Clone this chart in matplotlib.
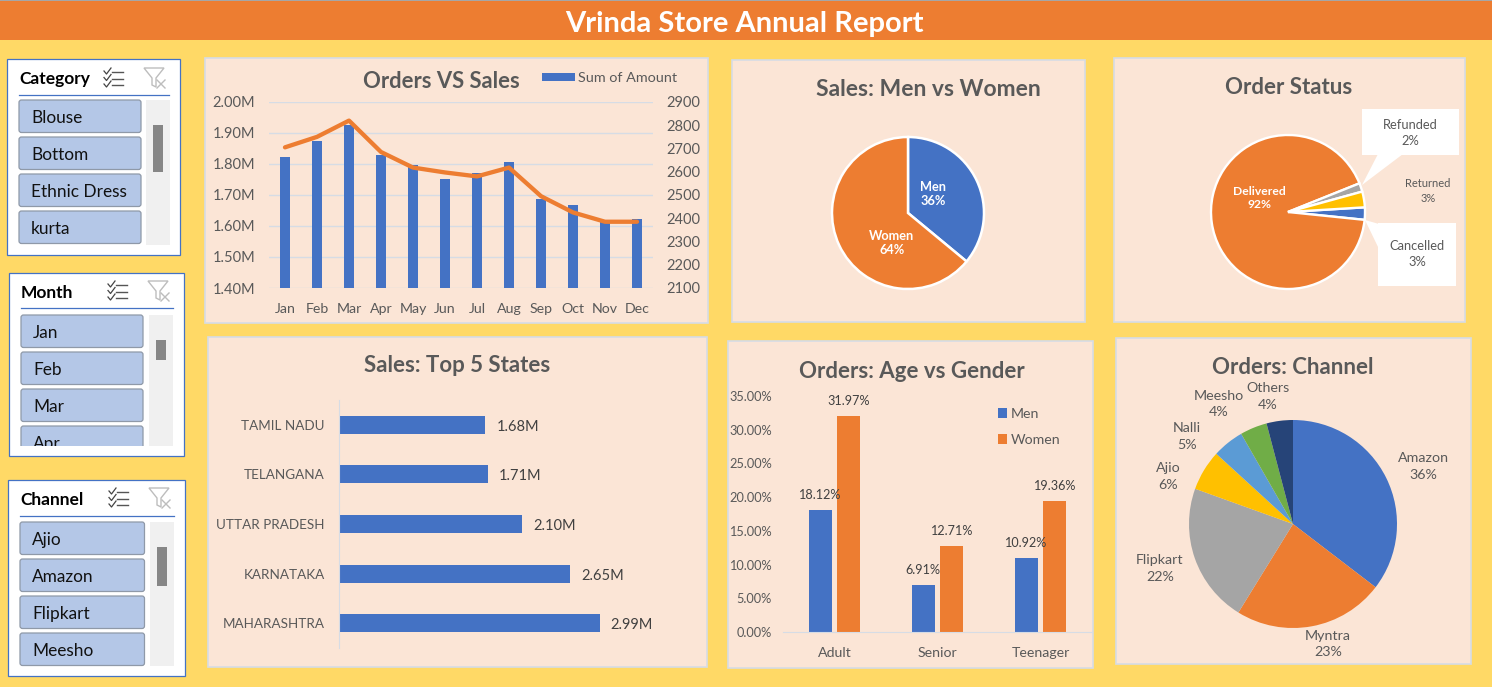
import matplotlib
matplotlib.use("Agg")
import matplotlib.pyplot as plt
from matplotlib.patches import FancyBboxPatch, Rectangle, Polygon

plt.rcParams['font.family'] = ['Lato', 'DejaVu Sans']

# ---------- data ----------
months = ['Jan', 'Feb', 'Mar', 'Apr', 'May', 'Jun', 'Jul', 'Aug', 'Sep', 'Oct', 'Nov', 'Dec']
amount_m = [1.822, 1.875, 1.927, 1.830, 1.797, 1.753, 1.772, 1.807, 1.688, 1.668, 1.612, 1.623]
orders = [2705, 2750, 2820, 2685, 2618, 2597, 2580, 2618, 2495, 2425, 2385, 2385]

gender_labels = ['Men', 'Women']
gender_share = [36, 64]

status_labels = ['Cancelled', 'Delivered', 'Refunded', 'Returned']
status_share = [2.6, 92.3, 1.8, 3.3]

states = ['MAHARASHTRA', 'KARNATAKA', 'UTTAR PRADESH', 'TELANGANA', 'TAMIL NADU']
state_sales = [2.99, 2.65, 2.10, 1.71, 1.68]

age_groups = ['Adult', 'Senior', 'Teenager']
age_men = [18.12, 6.91, 10.92]
age_women = [31.97, 12.71, 19.36]

channels = ['Amazon', 'Myntra', 'Flipkart', 'Ajio', 'Nalli', 'Meesho', 'Others']
channel_share = [35.4, 23.4, 21.7, 6.3, 4.9, 4.2, 4.1]
channel_printed = [36, 23, 22, 6, 5, 4, 4]

slicer_category = ['Blouse', 'Bottom', 'Ethnic Dress', 'kurta']
slicer_month = ['Jan', 'Feb', 'Mar', 'Apr']
slicer_channel = ['Ajio', 'Amazon', 'Flipkart', 'Meesho']

# ---------- style ----------
W, H = 1492, 687
YELLOW = '#FFD966'
PANEL = '#FBE5D6'
ORANGE = '#ED7D31'
BLUE = '#4472C4'
GRAY = '#A5A5A5'
GOLD = '#FFC000'
LBLUE = '#5B9BD5'
GREEN = '#70AD47'
NAVY = '#264478'
TXT = '#595959'
DLBL = '#404040'
GRID = '#D6DCE5'

fig = plt.figure(figsize=(W / 100, H / 100), dpi=100, facecolor=YELLOW)


def px_axes(x0, y0, x1, y1, z=2):
    a = fig.add_axes([x0 / W, 1 - y1 / H, (x1 - x0) / W, (y1 - y0) / H], zorder=z)
    a.patch.set_alpha(0)
    return a


bg = fig.add_axes([0, 0, 1, 1], zorder=0)
bg.set_xlim(0, W)
bg.set_ylim(H, 0)
bg.axis('off')

top = fig.add_axes([0, 0, 1, 1], zorder=5)
top.set_xlim(0, W)
top.set_ylim(H, 0)
top.axis('off')
top.patch.set_alpha(0)


def rect(a, x0, y0, x1, y1, fc, ec='none', lw=0, z=1):
    a.add_patch(Rectangle((x0, y0), x1 - x0, y1 - y0, facecolor=fc, edgecolor=ec, linewidth=lw, zorder=z))


# header
rect(bg, 0, 0, W, 40, ORANGE)
rect(bg, 0, 0, W, 1, '#A6A6A6', z=2)
bg.text(744, 24, 'Vrinda Store Annual Report', color='white', fontsize=21, fontweight='bold', ha='center', va='center')

# panels
panel_boxes = [(205, 58, 708, 323), (732, 60, 1085, 322), (1114, 58, 1465, 322),
               (208, 337, 707, 667), (728, 341, 1093, 668), (1116, 338, 1471, 664)]
for (a, b, c, d) in panel_boxes:
    rect(bg, a, b, c, d, PANEL, ec=GRID, lw=1.2)


def title(text, x, y, size=16):
    bg.text(x, y, text, color=TXT, fontsize=size, fontweight='bold', ha='center', va='center', zorder=3)


title('Orders VS Sales', 441, 82, 15.8)
title('Sales: Men vs Women', 928, 90, 16.5)
title('Order Status', 1289, 87.5)
title('Sales: Top 5 States', 457, 366)
title('Orders: Age vs Gender', 912, 371)
title('Orders: Channel', 1293, 368)


# slicers
def slicer(name, items, box, line_y, line_x, btn_x, btn_y, track, thumb, icon_y, clip_last=None):
    x0, y0, x1, y1 = box
    rect(bg, x0, y0, x1, y1, 'white', ec=BLUE, lw=0.9)
    bg.text(line_x[0], (y0 + line_y) / 2 + 2, name, color='black', fontsize=12.5, fontweight='bold', va='center', zorder=3)
    bg.plot(line_x, [line_y, line_y], color=BLUE, lw=0.9, zorder=3)
    rect(bg, track[0], track[1], track[2], track[3], '#F0F0F0', z=2)
    rect(bg, thumb[0], thumb[1], thumb[2], thumb[3], '#868686', z=3)
    for i, item in enumerate(items):
        by = btn_y + i * 37
        bh = 32.5
        p = FancyBboxPatch((btn_x[0] + 1, by + 1), btn_x[1] - btn_x[0] - 2, bh - 2,
                           boxstyle='round,pad=1,rounding_size=2.5', facecolor='#B4C7E7',
                           edgecolor='#8F99A8', linewidth=0.9, zorder=3)
        bg.add_patch(p)
        t = bg.text(btn_x[0] + 12, by + bh / 2 + 2, item, color='#111111', fontsize=12.4, va='center', zorder=4)
        if clip_last is not None and i == len(items) - 1:
            cr = Rectangle((btn_x[0] - 3, by - 3), btn_x[1] - btn_x[0] + 6, clip_last - by + 3, transform=bg.transData)
            p.set_clip_path(cr)
            t.set_clip_path(cr)
            t.set_clip_on(True)
    # multi-select icon
    ix = line_x[1] - 65
    for k in range(3):
        yy = icon_y + 4 + k * 6.5
        bg.plot([ix + 8, ix + 19], [yy, yy], color='#555555', lw=1.0, zorder=3)
        bg.plot([ix, ix + 2.5, ix + 7], [yy - 1, yy + 2, yy - 4], color='#444444', lw=0.9, zorder=3)
    # clear-filter icon
    fx = line_x[1] - 25
    bg.add_patch(Polygon([(fx, icon_y), (fx + 20, icon_y), (fx + 12, icon_y + 10), (fx + 12, icon_y + 19),
                          (fx + 8, icon_y + 17), (fx + 8, icon_y + 10)],
                         closed=True, facecolor='none', edgecolor='#BDBDBD', linewidth=1.0, zorder=3))
    bg.plot([fx + 13, fx + 21], [icon_y + 12, icon_y + 20], color='#BDBDBD', lw=1.0, zorder=3)
    bg.plot([fx + 21, fx + 13], [icon_y + 12, icon_y + 20], color='#BDBDBD', lw=1.0, zorder=3)


slicer('Category', slicer_category, (7, 59, 180, 255), 95, (19, 169), (19, 141), 100,
       (146, 100, 170, 245), (153, 125, 163, 172), 68)
slicer('Month', slicer_month, (9, 273, 184, 456), 308, (21, 173), (21, 143), 315,
       (149, 315, 173, 446), (156, 340, 166, 360), 281, clip_last=446)
slicer('Channel', slicer_channel, (8, 480, 185, 676), 516, (20, 174), (20, 144.5), 522,
       (150, 522, 174, 666), (157, 547, 167, 586), 488)

# ---------- Orders vs Sales ----------
ax = px_axes(269, 102, 653, 288)
ax.bar(range(12), amount_m, width=0.31, color=BLUE, label='Sum of Amount', zorder=2)
ax.set_xlim(-0.5, 11.5)
ax.set_ylim(1.40, 2.00)
ax.set_yticks([1.4, 1.5, 1.6, 1.7, 1.8, 1.9, 2.0])
ax.set_yticklabels(['%.2fM' % v for v in [1.4, 1.5, 1.6, 1.7, 1.8, 1.9, 2.0]])
ax.set_xticks(range(12))
ax.set_xticklabels(months)
ax.grid(axis='y', color=GRID, lw=1, zorder=0)
ax.set_axisbelow(True)
for s in ax.spines.values():
    s.set_visible(False)
ax.tick_params(axis='both', length=0, labelcolor=TXT)
ax.tick_params(axis='y', labelsize=10.5, pad=10)
ax.tick_params(axis='x', labelsize=10.2, pad=11)
ax2 = ax.twinx()
ax2.patch.set_alpha(0)
ax2.plot(range(12), orders, color=ORANGE, lw=3.1, solid_capstyle='round')
ax2.set_ylim(2100, 2900)
ax2.set_yticks(range(2100, 3000, 100))
for s in ax2.spines.values():
    s.set_visible(False)
ax2.tick_params(axis='y', length=0, labelcolor=TXT, labelsize=10.5, pad=9.5)
fs = 10.4
ax.legend(loc='center left', bbox_to_anchor=(542 / W, 1 - 78 / H), bbox_transform=fig.transFigure,
          frameon=False, fontsize=fs, borderpad=0, borderaxespad=0, handlelength=33 / (fs * 100 / 72),
          handleheight=8 / (fs * 100 / 72), handletextpad=0.2, labelcolor=TXT)

# ---------- Men vs Women ----------
ax = px_axes(908 - 76, 213 - 76, 908 + 76, 213 + 76)
ax.pie(gender_share, colors=[BLUE, ORANGE], startangle=90, counterclock=False, radius=1,
       wedgeprops=dict(edgecolor='white', linewidth=1.8, clip_on=False))
ax.set_xlim(-1, 1)
ax.set_ylim(-1, 1)
gender_pos = [(933, 194), (892, 243)]
for lab, v, (x, y) in zip(gender_labels, gender_share, gender_pos):
    top.text(x, y, '%s\n%d%%' % (lab, v), color='white', fontsize=9.2, fontweight='bold', ha='center', va='center', linespacing=1.25)

# ---------- Order Status ----------
rect(bg, 1362, 109, 1459, 155, 'white', z=3)
bg.add_patch(Polygon([(1378, 154), (1403, 154), (1362, 185)], closed=True, facecolor='white', edgecolor='none', zorder=3))
rect(bg, 1378, 223, 1456, 286, 'white', z=3)
bg.add_patch(Polygon([(1379, 224), (1379, 249), (1365, 220)], closed=True, facecolor='white', edgecolor='none', zorder=3))
ax = px_axes(1288 - 77, 212 - 77, 1288 + 77, 212 + 77)
ax.pie(status_share, colors=[BLUE, ORANGE, GRAY, GOLD], startangle=3.5, counterclock=False, radius=1,
       wedgeprops=dict(edgecolor='white', linewidth=1.7, clip_on=False))
ax.set_xlim(-1, 1)
ax.set_ylim(-1, 1)
status_pos = {'Cancelled': (1417, 254, 9.3, TXT, 'normal', 1.45), 'Delivered': (1259, 198, 8.7, 'white', 'bold', 1.2),
              'Refunded': (1410, 133, 9.3, TXT, 'normal', 1.45), 'Returned': (1428, 191, 8, TXT, 'normal', 1.35)}
for lab, v in zip(status_labels, status_share):
    x, y, s, c, w, ls = status_pos[lab]
    top.text(x, y, '%s\n%.0f%%' % (lab, v), color=c, fontsize=s, fontweight=w, ha='center', va='center', linespacing=ls)

# ---------- Top 5 states ----------
ax = px_axes(338.6, 400, 687, 648)
ax.barh(range(5), state_sales, height=0.36, color=BLUE, zorder=2)
ax.set_ylim(-0.5, 4.5)
ax.set_xlim(0, 348.4 / 87.3)
ax.set_yticks(range(5))
ax.set_yticklabels(states)
ax.set_xticks([])
for name, s in ax.spines.items():
    s.set_visible(name == 'left')
ax.spines['left'].set_color(GRID)
ax.tick_params(axis='y', length=0, labelcolor=TXT, labelsize=9.7, pad=10)
for i, v in enumerate(state_sales):
    ax.annotate('%.2fM' % v, (v, i), xytext=(11, -2), textcoords='offset pixels', color=DLBL, fontsize=10.5, va='center')

# ---------- Age vs Gender ----------
ax = px_axes(783, 396, 1092, 632)
off = 0.14
ax.bar([i - off for i in range(3)], age_men, width=0.223, color=BLUE, label='Men', zorder=2)
ax.bar([i + off for i in range(3)], age_women, width=0.223, color=ORANGE, label='Women', zorder=2)
ax.set_xlim(-0.5, 2.5)
ax.set_ylim(0, 35)
ax.set_yticks(range(0, 40, 5))
ax.set_yticklabels(['%.2f%%' % v for v in range(0, 40, 5)])
ax.set_xticks(range(3))
ax.set_xticklabels(age_groups)
for name, s in ax.spines.items():
    s.set_visible(name == 'bottom')
ax.spines['bottom'].set_color(GRID)
ax.tick_params(axis='both', length=0, labelcolor=TXT)
ax.tick_params(axis='y', labelsize=9.2, pad=8)
ax.tick_params(axis='x', labelsize=10.2, pad=11)
for i, v in enumerate(age_men):
    ax.annotate('%.2f%%' % v, (i - off, v), xytext=(0, 11), textcoords='offset pixels', color=DLBL, fontsize=9.1, ha='center', va='baseline')
for i, v in enumerate(age_women):
    ax.annotate('%.2f%%' % v, (i + off, v), xytext=(0, 11), textcoords='offset pixels', color=DLBL, fontsize=9.1, ha='center', va='baseline')
fs = 10.2
ax.legend(loc='upper left', bbox_to_anchor=(998 / W, 1 - 408 / H), bbox_transform=fig.transFigure,
          frameon=False, fontsize=fs, borderpad=0, borderaxespad=0, handlelength=9 / (fs * 100 / 72),
          handleheight=0.7, handletextpad=0.3, labelspacing=1.0, labelcolor=TXT)

# ---------- Channel ----------
ax = px_axes(1293 - 104, 524 - 104, 1293 + 104, 524 + 104)
ax.pie(channel_share, colors=[BLUE, ORANGE, GRAY, GOLD, LBLUE, GREEN, NAVY], startangle=90, counterclock=False,
       radius=1, wedgeprops=dict(edgecolor='none', clip_on=False))
ax.set_xlim(-1, 1)
ax.set_ylim(-1, 1)
channel_pos = [(1423, 466.5), (1328, 644), (1160, 568.5), (1168, 476.5), (1187, 436.5), (1219, 404), (1268, 396.5)]
for lab, v, (x, y) in zip(channels, channel_printed, channel_pos):
    top.text(x, y, '%s\n%d%%' % (lab, v), color=TXT, fontsize=10.3, ha='center', va='center', linespacing=1.45)

fig.savefig('out.png', dpi=100, facecolor=YELLOW)
